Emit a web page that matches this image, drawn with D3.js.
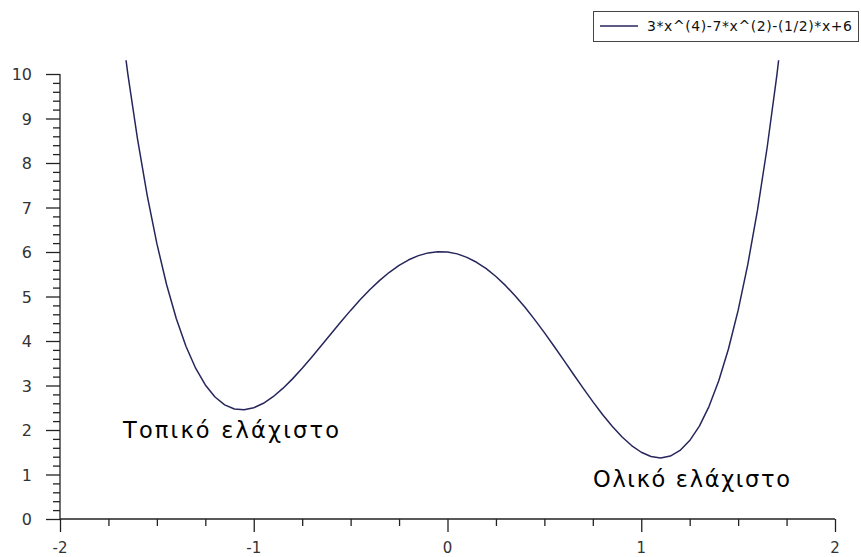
<!DOCTYPE html>
<html>
<head>
<meta charset="utf-8">
<script src="https://cdn.jsdelivr.net/npm/d3@7"></script>
<style>
  html, body { margin: 0; padding: 0; background: #fff; }
  svg { display: block; font-family: "DejaVu Sans", sans-serif; }
</style>
</head>
<body>
<svg id="chart" width="861" height="557"></svg>
<script>
// Sampled points of f(x) = 3x^4 - 7x^2 - x/2 + 6
const xs = [-1.70, -1.65, -1.60, -1.55, -1.50, -1.45, -1.40, -1.35, -1.30, -1.25,
            -1.20, -1.15, -1.10, -1.05, -1.00, -0.95, -0.90, -0.85, -0.80, -0.75,
            -0.70, -0.65, -0.60, -0.55, -0.50, -0.45, -0.40, -0.35, -0.30, -0.25,
            -0.20, -0.15, -0.10, -0.05, 0.00, 0.05, 0.10, 0.15, 0.20, 0.25,
            0.30, 0.35, 0.40, 0.45, 0.50, 0.55, 0.60, 0.65, 0.70, 0.75,
            0.80, 0.85, 0.90, 0.95, 1.00, 1.05, 1.10, 1.15, 1.20, 1.25,
            1.30, 1.35, 1.40, 1.45, 1.50, 1.55, 1.60, 1.65, 1.70, 1.75];
const ys = [11.676, 10.004, 8.541, 7.274, 6.188, 5.269, 4.505, 3.882, 3.388, 3.012,
            2.741, 2.565, 2.472, 2.454, 2.500, 2.601, 2.748, 2.934, 3.149, 3.387,
            3.640, 3.903, 4.169, 4.432, 4.688, 4.931, 5.157, 5.363, 5.544, 5.699,
            5.825, 5.919, 5.980, 6.008, 6.000, 5.958, 5.880, 5.769, 5.625, 5.449,
            5.244, 5.013, 4.757, 4.481, 4.188, 3.882, 3.569, 3.253, 2.940, 2.637,
            2.349, 2.084, 1.848, 1.651, 1.500, 1.404, 1.372, 1.415, 1.541, 1.762,
            2.088, 2.532, 3.105, 3.819, 4.688, 5.724, 6.941, 8.354, 9.976, 11.824];

const xTicks = [-2, -1, 0, 1, 2];
const yTicks = [0, 1, 2, 3, 4, 5, 6, 7, 8, 9, 10];
const legendLabel = "3*x^(4)-7*x^(2)-(1/2)*x+6";
const localMinLabel = "Τοπικό ελάχιστο";
const globalMinLabel = "Ολικό ελάχιστο";

const svg = d3.select("#chart");
const axisColor = "#222";
const curveColor = "#26265c";

const x = d3.scaleLinear().domain([-2, 2]).range([60, 835]);
const y = d3.scaleLinear().domain([0, 10]).range([519, 74]);
const yTop = 10.31;

// clip region for the curve
svg.append("defs").append("clipPath").attr("id", "plotClip")
  .append("rect")
  .attr("x", x(-2)).attr("y", y(yTop))
  .attr("width", x(2) - x(-2)).attr("height", y(0) - y(yTop));

// y axis: major ticks with labels, minor ticks every 0.2
const yAxis = svg.append("g").attr("transform", `translate(${x(-2)},0)`);
yAxis.call(d3.axisLeft(y).tickValues(d3.range(0, 10.001, 0.2)).tickSize(7).tickFormat(""));
yAxis.call(g => g.selectAll(".tick").filter(d => Math.abs(d - Math.round(d)) < 1e-6)
  .select("line").attr("x2", -14));
const yLab = svg.append("g");
yLab.selectAll("text").data(yTicks).join("text")
  .attr("x", 32).attr("y", d => y(d) + 6)
  .attr("text-anchor", "end")
  .attr("font-size", 16).attr("fill", "#333")
  .text(d => d);

// x axis: major ticks with labels, minor ticks every 0.25
const xAxis = svg.append("g").attr("transform", `translate(0,${y(0)})`);
xAxis.call(d3.axisBottom(x).tickValues(d3.range(-2, 2.001, 0.25)).tickSize(7).tickFormat(""));
xAxis.call(g => g.selectAll(".tick").filter(d => Math.abs(d - Math.round(d)) < 1e-6)
  .select("line").attr("y2", 13));
const xLab = svg.append("g");
xLab.selectAll("text").data(xTicks).join("text")
  .attr("x", d => x(d)).attr("y", 553)
  .attr("text-anchor", "middle")
  .attr("font-size", 15).attr("fill", "#333")
  .text(d => d);

[yAxis, xAxis].forEach(g => {
  g.selectAll(".tick line").attr("stroke", axisColor).attr("stroke-width", 1.3);
  g.select(".domain").attr("stroke", axisColor).attr("stroke-width", 1.3);
});
// plain axis lines without the end caps
yAxis.select(".domain").attr("d", `M0,${y(0)}V${y(10)}`);
xAxis.select(".domain").attr("d", `M${x(-2)},0H${x(2)}`);

// curve
const pts = xs.map((v, i) => [v, ys[i]]);
svg.append("path")
  .datum(pts)
  .attr("clip-path", "url(#plotClip)")
  .attr("fill", "none")
  .attr("stroke", curveColor)
  .attr("stroke-width", 1.5)
  .attr("stroke-linejoin", "round")
  .attr("d", d3.line().x(d => x(d[0])).y(d => y(d[1])));

// annotations
svg.append("text")
  .attr("x", x(-1.675)).attr("y", y(1.82))
  .attr("font-size", 22.5).attr("fill", "#000")
  .attr("textLength", 216).attr("lengthAdjust", "spacing")
  .text(localMinLabel);
svg.append("text")
  .attr("x", x(0.751)).attr("y", y(0.72))
  .attr("font-size", 22.5).attr("fill", "#000")
  .attr("textLength", 197).attr("lengthAdjust", "spacing")
  .text(globalMinLabel);

// legend
const legend = svg.append("g");
legend.append("rect")
  .attr("x", 593.5).attr("y", 11.5).attr("width", 265).attr("height", 30)
  .attr("fill", "#fff").attr("stroke", "#444").attr("stroke-width", 1);
legend.append("line")
  .attr("x1", 600).attr("x2", 638).attr("y1", 26).attr("y2", 26)
  .attr("stroke", curveColor).attr("stroke-width", 1.3);
legend.append("text")
  .attr("x", 647).attr("y", 31)
  .attr("font-size", 14).attr("fill", "#111")
  .attr("textLength", 205).attr("lengthAdjust", "spacing")
  .text(legendLabel);
</script>
</body>
</html>
